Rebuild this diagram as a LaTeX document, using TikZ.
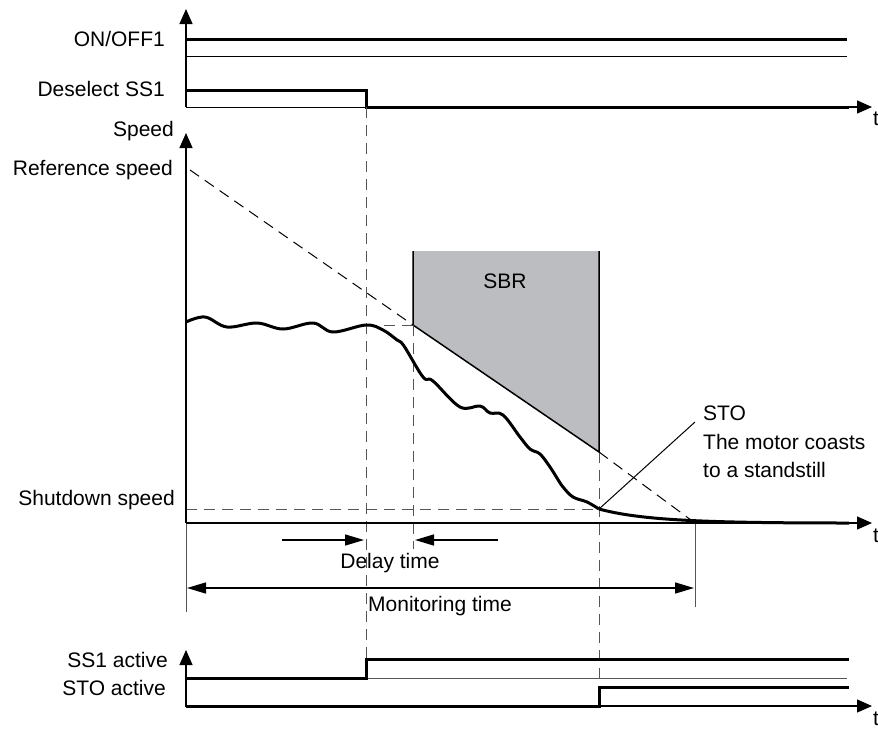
\documentclass[tikz,border=0pt]{standalone}
\usepackage{fontspec}
\setmainfont{Liberation Sans}
\usetikzlibrary{arrows.meta}
\definecolor{sbrgray}{RGB}{187,189,192}
\definecolor{dgray}{RGB}{85,85,85}
\begin{document}
\begin{tikzpicture}[x=1pt,y=-1pt,
  font=\fontsize{21}{25}\selectfont,
  sig/.style={line width=3pt},
  fine/.style={line width=1pt},
  dsh/.style={line width=1pt, dgray, dash pattern=on 11pt off 7pt},
  axis/.style={line width=1.3pt, -{Triangle[length=15pt,width=13pt]}},
  dimarr/.style={line width=1.5pt, -{Triangle[length=19pt,width=11pt]}},
  lbl/.style={anchor=east, inner sep=0pt},
  note/.style={anchor=west, inner sep=0pt}]
\useasboundingbox (0,0) rectangle (878,739);

% ---------- top signals ----------
\draw[axis] (186,107) -- (186,9);
\node[lbl] (onoff) at (165,39) {ON/OFF1};
\node[lbl] (desel) at (165,89) {Deselect SS1};
\draw[sig] (186,39) -- (847,39);
\draw[fine] (186,56) -- (847,56);
\draw[fine] (186,107) -- (366,107);
\draw[sig] (186,90) -- (366,90) -- (366,107) -- (849,107);
\draw[axis] (845,107) -- (872,107);
\node[note] (t1) at (873,119) {t};

% ---------- speed diagram ----------
\fill[sbrgray] (413,251) -- (599,251) -- (599,452) -- (413,325) -- cycle;
\draw[line width=1.5pt] (413,251) -- (413,325) -- (599,452) -- (599,251);
\node (sbr) at (505,281) {SBR};

\node[lbl] (speed) at (174,131) {Speed};
\node[lbl] (refsp) at (173,170) {Reference speed};
\node[lbl] (shut) at (175,500) {Shutdown speed};

% dashed helper lines
\draw[dsh] (366,107) -- (366,678);
\draw[dsh] (413,325) -- (413,549);
\draw[dsh] (599,452) -- (599,706);
\draw[dsh] (366,325) -- (413,325);
\draw[dsh] (186,509) -- (599,509);
\draw[dsh, black] (190,170) -- (413,325);
\draw[dsh, black] (599,452) -- (695,523);

% axes
\draw[fine, dgray] (186,523) -- (186,612);
\draw[fine, dgray] (695,523) -- (695,607);
\draw[axis] (186,523) -- (186,133);
\draw[axis] (186,523) -- (872,523);
\node[note] (t2) at (873,536) {t};

% speed curve
\draw[line width=3pt, line join=round]
  plot[smooth, tension=0.6] coordinates {
   (186,322) (205,317) (227,327) (257,323) (283,329) (313,323) (333,332)
   (366,325) (383,330) (397,340) (404,346) (423,377) (433,381) (460,407)
   (480,406) (490,413) (503,415) (520,437) (530,449) (540,454) (550,467)
   (557,478) (563,487) (573,497) (587,502) (599,509)};
\draw[line width=3pt] (599,509) .. controls (640,520) and (700,523) .. (849,523);

% STO leader
\draw[fine] (599,509) -- (695,422);
\node[note] (sto) at (703,413) {STO};
\node[note] (coast1) at (703,442) {The motor coasts};
\node[note] (coast2) at (703,470) {to a standstill};

% delay time
\draw[dimarr] (282,540) -- (364,540);
\draw[dimarr] (498,540) -- (415,540);
\node (delay) at (390,563) {Delay time};

% monitoring time
\draw[line width=1.5pt, {Triangle[length=19pt,width=11pt]}-{Triangle[length=19pt,width=11pt]}] (187,588) -- (694,588);
\node (mon) at (440,606) {Monitoring time};

% ---------- bottom signals ----------
\draw[axis] (186,707) -- (186,650);
\node[lbl] (ss1) at (168,660) {SS1 active};
\node[lbl] (stoa) at (166,688) {STO active};
\draw[fine, dgray] (366,678) -- (847,678);
\draw[sig] (186,678) -- (366,678) -- (366,659) -- (849,659);
\draw[axis] (599,706) -- (872,706);
\draw[sig] (186,706) -- (599,706) -- (599,687) -- (849,687);
\node[note] (t3) at (873,719) {t};
\end{tikzpicture}
\end{document}
